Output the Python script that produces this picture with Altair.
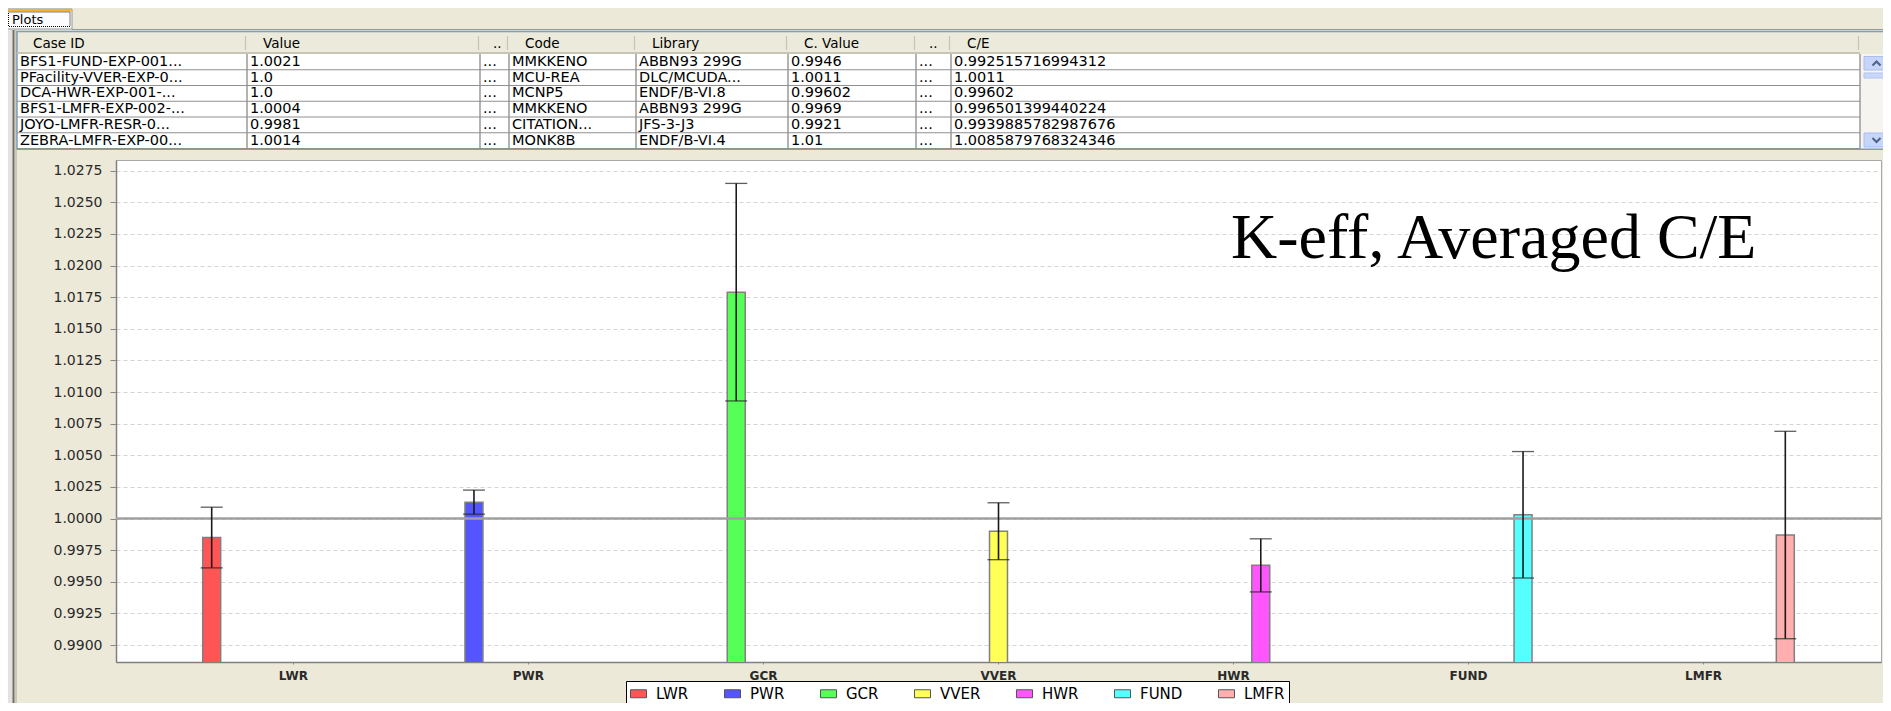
import altair as alt
import pandas as pd

# ---------------- chart data ----------------
categories = ["LWR", "PWR", "GCR", "VVER", "HWR", "FUND", "LMFR"]
ce_mean = [0.9985, 1.0013, 1.0179, 0.9990, 0.9963, 1.0003, 0.9987]
ce_err = [0.0024, 0.00095, 0.0086, 0.00225, 0.0021, 0.0050, 0.0082]
series_colors = ["#FF5555", "#5555FF", "#55FF55", "#FFFF55", "#FF55FF", "#55FFFF", "#FFAFAF"]
reference_value = [1.0]
y_tick_values = [0.9900, 0.9925, 0.9950, 0.9975, 1.0000, 1.0025, 1.0050, 1.0075,
                 1.0100, 1.0125, 1.0150, 1.0175, 1.0200, 1.0225, 1.0250, 1.0275]
y_domain = [0.98866, 1.02835]
chart_title = "K-eff, Averaged C/E"

# ---------------- table data ----------------
tab_label = "Plots"
table_headers = ["Case ID", "Value", "..", "Code", "Library", "C. Value", "..", "C/E"]
case_ids = ["BFS1-FUND-EXP-001...", "PFacility-VVER-EXP-0...", "DCA-HWR-EXP-001-...",
            "BFS1-LMFR-EXP-002-...", "JOYO-LMFR-RESR-0...", "ZEBRA-LMFR-EXP-00..."]
exp_values = ["1.0021", "1.0", "1.0", "1.0004", "0.9981", "1.0014"]
trunc_a = ["...", "...", "...", "...", "...", "..."]
codes = ["MMKKENO", "MCU-REA", "MCNP5", "MMKKENO", "CITATION...", "MONK8B"]
libraries = ["ABBN93 299G", "DLC/MCUDA...", "ENDF/B-VI.8", "ABBN93 299G", "JFS-3-J3", "ENDF/B-VI.4"]
calc_values = ["0.9946", "1.0011", "0.99602", "0.9969", "0.9921", "1.01"]
trunc_b = ["...", "...", "...", "...", "...", "..."]
ce_values = ["0.992515716994312", "1.0011", "0.99602", "0.996501399440224",
             "0.9939885782987676", "1.0085879768324346"]
table_columns = [case_ids, exp_values, trunc_a, codes, libraries, calc_values, trunc_b, ce_values]

# ---------------- layout (page pixels) ----------------
PLOT_W, PLOT_H = 1765, 502
PLOT_LEFT, PLOT_TOP = 116, 160
COL_EDGES = [17, 247, 480, 509, 636, 788, 916, 951, 1860]
HEADER_TOP, BODY_TOP, ROW_H = 33, 54, 15.75
FONT = "DejaVu Sans"

PX = alt.Scale(domain=[0, 1891], range=[-PLOT_LEFT, 1891 - PLOT_LEFT], nice=False, zero=False)
PY = alt.Scale(domain=[0, 711], range=[-PLOT_TOP, 711 - PLOT_TOP], nice=False, zero=False)

# ---------------- bar chart ----------------
df = pd.DataFrame({"category": categories, "series": categories, "mean": ce_mean, "err": ce_err})
df["lo"] = df["mean"] - df["err"]
df["hi"] = df["mean"] + df["err"]

x_axis = alt.Axis(title=None, labelAngle=0, labelFont=FONT, labelFontSize=12, labelFontWeight="bold",
                  labelColor="#2A2A2A", tickSize=2, tickColor="#888888", domainColor="#808080",
                  domainWidth=1.5, labelPadding=6, grid=False)
y_axis = alt.Axis(title=None, values=y_tick_values, format=".4f", labelFont=FONT, labelFontSize=14,
                  labelColor="#2A2A2A", tickSize=6, tickColor="#888888", domainColor="#808080",
                  domainWidth=1.5, labelPadding=8, grid=True, gridDash=[4, 3], gridColor="#D4D4D4")
x_scale = alt.Scale(paddingInner=0.2, paddingOuter=0.355)
xo_scale = alt.Scale(paddingInner=0.34, paddingOuter=0.12)
y_scale = alt.Scale(domain=y_domain, zero=False, nice=False)

X = alt.X("category:N", sort=categories, scale=x_scale, axis=x_axis)
XO = alt.XOffset("series:N", sort=categories, scale=xo_scale)

legend = alt.Legend(orient="none", legendX=510, legendY=521, direction="horizontal", columns=7,
                    title=None, symbolType="M-1,-0.5H1V0.5H-1Z", symbolSize=256,
                    symbolStrokeColor="#555555", symbolStrokeWidth=1, labelFont=FONT,
                    labelFontSize=15, labelColor="#000000", labelOffset=9, columnPadding=33,
                    padding=4, strokeColor="#000000", fillColor="#FFFFFF")

bars = alt.Chart(df).mark_bar(stroke="#808080", strokeWidth=1.5, clip=True).encode(
    x=X, xOffset=XO,
    y=alt.Y("mean:Q", scale=y_scale, axis=y_axis),
    color=alt.Color("series:N", sort=categories,
                    scale=alt.Scale(domain=categories, range=series_colors), legend=legend),
)
ref_line = alt.Chart(pd.DataFrame({"ref": reference_value})).mark_rule(
    color="#A0A0A0", strokeWidth=2.5).encode(y=alt.Y("ref:Q", scale=y_scale, axis=y_axis))
err_rule = alt.Chart(df).mark_rule(color="#1A1A1A", strokeWidth=1.6).encode(
    x=X, xOffset=XO, y=alt.Y("lo:Q", scale=y_scale, axis=y_axis), y2="hi:Q")
cap_hi = alt.Chart(df).mark_tick(color="#1A1A1A", size=22, thickness=1.3, orient="horizontal").encode(
    x=X, xOffset=XO, y=alt.Y("hi:Q", scale=y_scale, axis=y_axis))
cap_lo = alt.Chart(df).mark_tick(color="#1A1A1A", size=22, thickness=1.3, orient="horizontal").encode(
    x=X, xOffset=XO, y=alt.Y("lo:Q", scale=y_scale, axis=y_axis))

plot = alt.layer(bars, ref_line, err_rule, cap_hi, cap_lo)

# ---------------- GUI chrome ----------------
rects = [
    # x, x2, y, y2, fill, stroke
    (0, 12, 0, 711, "#E2E2E2", "transparent"),
    (6, 72, 9, 29, "#FCFCFE", "#919B9C"),
    (6, 72, 9, 11.5, "#F2B233", "transparent"),
    (17, 1860, HEADER_TOP, BODY_TOP, "#EBEADB", "transparent"),
    (1860, 1891, HEADER_TOP, BODY_TOP, "#EBEADB", "transparent"),
    (17, 1860, BODY_TOP, BODY_TOP + 6 * ROW_H, "#FFFFFF", "transparent"),
    (1860, 1891, BODY_TOP, BODY_TOP + 6 * ROW_H, "#F5F4EF", "transparent"),
    (1864, 1889, 56.5, 70, "#C6D5F8", "#A8BEF0"),
    (1864, 1889, 73, 78, "#C9D8FA", "#B0C4F2"),
    (1864, 1889, 133, 147, "#C6D5F8", "#A8BEF0"),
]
rect_df = pd.DataFrame(rects, columns=["x", "x2", "y", "y2", "fill", "stroke"])
ui_rects = alt.Chart(rect_df).mark_rect(strokeWidth=1).encode(
    x=alt.X("x:Q", scale=PX, axis=None), x2="x2:Q",
    y=alt.Y("y:Q", scale=PY, axis=None), y2="y2:Q",
    fill=alt.Fill("fill:N", scale=None), stroke=alt.Stroke("stroke:N", scale=None))

lines = [
    (72, 1891, 29.5, 29.5, "#919B9C", 1),
    (13.5, 13.5, 30, 711, "#716F64", 2),
    (16, 16, 30, 711, "#ACA899", 1),
    (17, 1891, 31.5, 31.5, "#7F9DB9", 1.5),
    (17, 1891, BODY_TOP + 6 * ROW_H + 0.8, BODY_TOP + 6 * ROW_H + 0.8, "#7F9DB9", 1.5),
    (17, 17, 31, BODY_TOP + 6 * ROW_H + 1, "#7F9DB9", 1.5),
    (17, 1860, BODY_TOP - 1, BODY_TOP - 1, "#C9C5B4", 2),
]
for e in COL_EDGES[1:]:
    lines.append((e - 1.5, e - 1.5, HEADER_TOP + 3, BODY_TOP - 4, "#C7C5B2", 1.2))
    lines.append((e, e, BODY_TOP, BODY_TOP + 6 * ROW_H, "#9A9A9A", 1.5))
for i in range(1, 7):
    yy = BODY_TOP + i * ROW_H
    lines.append((17, 1860, yy, yy, "#909090", 1))
line_df = pd.DataFrame(lines, columns=["x", "x2", "y", "y2", "c", "w"])
ui_lines = alt.Chart(line_df).mark_rule().encode(
    x=alt.X("x:Q", scale=PX, axis=None), x2="x2:Q",
    y=alt.Y("y:Q", scale=PY, axis=None), y2="y2:Q",
    stroke=alt.Stroke("c:N", scale=None), strokeWidth=alt.StrokeWidth("w:Q", scale=None))

focus_df = pd.DataFrame({"x": [8.5], "x2": [70], "y": [12], "y2": [26.5]})
tab_focus = alt.Chart(focus_df).mark_rect(fill="transparent", stroke="#000000", strokeDash=[1, 1],
                                          strokeWidth=1).encode(
    x=alt.X("x:Q", scale=PX, axis=None), x2="x2:Q",
    y=alt.Y("y:Q", scale=PY, axis=None), y2="y2:Q")

chev = []
for g, (cx, cy, d) in enumerate([(1876.5, 63.5, -1), (1876.5, 140, 1)]):
    for o, dx in enumerate([-4, 0, 4]):
        chev.append({"g": g, "o": o, "x": cx + dx, "y": cy + (d * 2 if dx == 0 else -d * 2)})
chevrons = alt.Chart(pd.DataFrame(chev)).mark_line(color="#4D6185", strokeWidth=2).encode(
    x=alt.X("x:Q", scale=PX, axis=None), y=alt.Y("y:Q", scale=PY, axis=None),
    detail="g:N", order="o:Q")

texts = [{"x": 12, "y": 19.5, "t": tab_label, "fs": 13}]
for c, h in enumerate(table_headers):
    width = COL_EDGES[c + 1] - COL_EDGES[c]
    texts.append({"x": COL_EDGES[c] + (16 if width > 60 else 13),
                  "y": (HEADER_TOP + BODY_TOP) / 2, "t": h, "fs": 13.5})
for c, col in enumerate(table_columns):
    for r, val in enumerate(col):
        texts.append({"x": COL_EDGES[c] + 3, "y": BODY_TOP + (r + 0.5) * ROW_H, "t": val, "fs": 14.5})
ui_text = alt.Chart(pd.DataFrame(texts)).mark_text(align="left", baseline="middle", font=FONT,
                                                   color="#000000").encode(
    x=alt.X("x:Q", scale=PX, axis=None), y=alt.Y("y:Q", scale=PY, axis=None),
    text="t:N", size=alt.Size("fs:Q", scale=None))

title_df = pd.DataFrame({"x": [1231], "y": [258], "t": [chart_title]})
title = alt.Chart(title_df).mark_text(align="left", baseline="alphabetic", font="Liberation Serif",
                                      fontSize=64, color="#000000").encode(
    x=alt.X("x:Q", scale=PX, axis=None), y=alt.Y("y:Q", scale=PY, axis=None), text="t:N")

chart = alt.layer(plot, ui_rects, ui_lines, tab_focus, chevrons, ui_text, title).resolve_scale(
    x="independent", y="independent", fill="independent", stroke="independent",
    size="independent", strokeWidth="independent"
).properties(
    width=PLOT_W, height=PLOT_H,
    autosize=alt.AutoSizeParams(type="none"),
    padding={"left": PLOT_LEFT - 8, "top": PLOT_TOP - 8, "right": 2, "bottom": 41},
    background="#ECE9D8",
).configure_view(fill="#FFFFFF", stroke="#A8A8A8", strokeWidth=1)

chart.save("out.html", embed_options={"renderer": "svg", "actions": False})
